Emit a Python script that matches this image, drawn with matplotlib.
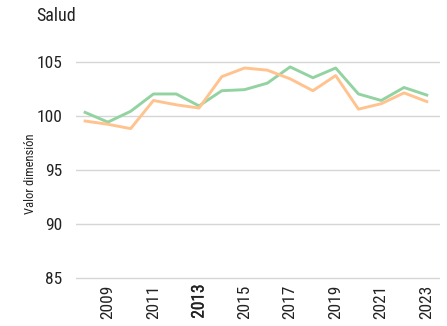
import matplotlib
matplotlib.use("Agg")
import matplotlib.pyplot as plt
import matplotlib.patheffects as pe

plt.rcParams['font.family'] = ['Roboto Condensed', 'Open Sans Condensed', 'Roboto', 'DejaVu Sans']

years = list(range(2008, 2024))
serie_verde = [100.3, 99.4, 100.4, 102.0, 102.0, 100.9, 102.3, 102.4, 103.0,
               104.5, 103.5, 104.4, 102.0, 101.4, 102.6, 101.9]
serie_naranja = [99.5, 99.2, 98.8, 101.4, 101.0, 100.7, 103.6, 104.4, 104.2,
                 103.4, 102.3, 103.7, 100.6, 101.1, 102.1, 101.3]
xticks = list(range(2009, 2024, 2))
yticks = [85, 90, 95, 100, 105]

W, H = 447, 326
pu = (278 - 61.5) / 20  # pixels per unit on y
fig = plt.figure(figsize=(W / 100, H / 100), dpi=100)
ax = fig.add_axes([76 / W, 1 - (278 + 0.2 * pu) / H, (440 - 76) / W, (278 - 61.5 + 0.4 * pu) / H])

ax.plot(years, serie_verde, color='#93d3a2', lw=2.1, clip_on=False, zorder=3)
ax.plot(years, serie_naranja, color='#ffc38f', lw=2.1, clip_on=False, zorder=3)

ax.set_ylim(84.8, 105.2)
ax.set_xlim(2007.6, 2023.58)
ax.set_yticks(yticks)
ax.set_xticks(xticks)
ax.set_xticklabels([str(y) for y in xticks], rotation=90)
ax.grid(axis='y', color='#d6d6d6', lw=1.0)
ax.set_axisbelow(True)
for s in ax.spines.values():
    s.set_visible(False)
ax.tick_params(axis='both', length=0, labelsize=12.5, colors='#222222')
ax.tick_params(axis='y', pad=10)
ax.tick_params(axis='x', pad=3)
for lbl in ax.get_xticklabels():
    if lbl.get_text() == '2013':
        lbl.set_path_effects([pe.withStroke(linewidth=0.25, foreground='#222222')])

ax.set_ylabel('Valor dimensión', fontsize=9, color='#222222')
ax.yaxis.set_label_coords((37 - 76) / 364, 0.48)
fig.text(36 / W, 1 - 16 / H, 'Salud', fontsize=13, color='#222222',
         va='center', ha='left')

fig.savefig('out.png', dpi=100)
